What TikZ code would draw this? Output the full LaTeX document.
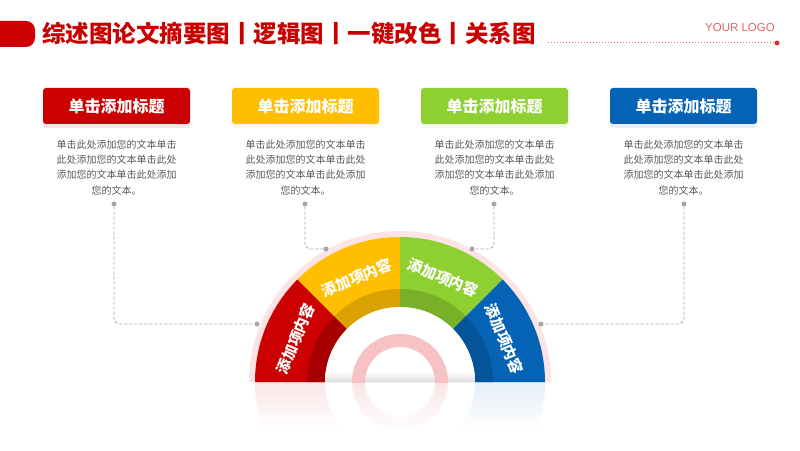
\documentclass[tikz,border=0pt]{standalone}
\usepackage{fontspec}
\setmainfont{Noto Sans CJK SC}
\newfontfamily\logofont{Liberation Sans}
\usetikzlibrary{shadows}
\definecolor{cred}{HTML}{CC0000}
\definecolor{cyel}{HTML}{FFBF00}
\definecolor{cgrn}{HTML}{8DD02F}
\definecolor{cblu}{HTML}{0563B5}
\definecolor{ctitle}{HTML}{C80000}
\definecolor{cgray}{HTML}{A6A6A6}
\definecolor{ctext}{HTML}{595959}
\definecolor{chalo}{HTML}{FCE4E4}
\definecolor{cring}{HTML}{F6C2C4}
\tikzset{
  titlebox/.style={minimum width=147pt, minimum height=36pt, rounded corners=3pt, inner sep=0pt,
    text=white, font=\bfseries\fontsize{16}{16}\selectfont,
    drop shadow={shadow xshift=0pt, shadow yshift=-4pt, opacity=0.22, fill=#1!45}, fill=#1},
  bodytext/.style={align=center, text=ctext, font=\fontsize{10}{15.3}\selectfont, inner sep=0pt},
  cdot/.style={circle, fill=cgray, inner sep=0pt, minimum size=5pt},
  conn/.style={draw=cgray, dash pattern=on 3pt off 2pt, line width=0.8pt, rounded corners=6pt},
  segtext/.style={text=white, font=\bfseries\fontsize{15}{15}\selectfont, inner sep=0pt},
}
\newcommand{\segm}[4]{% start, end, rin, rout
  (#1:#4) arc[start angle=#1, end angle=#2, radius=#4] -- (#2:#3) arc[start angle=#2, end angle=#1, radius=#3] -- cycle}
\begin{document}
\begin{tikzpicture}[x=1pt,y=1pt]
\useasboundingbox (0,0) rectangle (800,450);
\fill[white] (0,0) rectangle (800,450);

% header
\fill[cred, rounded corners=9pt] (-12,403) rectangle (35,429);
\node[anchor=west, text=ctitle, font=\bfseries\fontsize{23.5}{23.5}\selectfont, inner sep=0pt] (title) at (42,416) {综述图论文摘要图丨逻辑图丨一键改色丨关系图};
\coordinate (ls) at (548,407);
\node[circle, fill=cred!80, inner sep=0pt, minimum size=5pt] (le) at (777,407) {};
\draw[cred!55, dotted, line width=1pt] (ls) -- (le);
\node[text=cred!60, font=\logofont\fontsize{11.5}{12}\selectfont, inner sep=0pt] (logo) at (740,422) {YOUR LOGO};

% title boxes
\node[titlebox=cred] (t1) at (116.5,344) {单击添加标题};
\node[titlebox=cyel] (t2) at (305.5,344) {单击添加标题};
\node[titlebox=cgrn] (t3) at (494.5,344) {单击添加标题};
\node[titlebox=cblu] (t4) at (683.5,344) {单击添加标题};

% body texts
\foreach \i/\x in {1/116.5, 2/305.5, 3/494.5, 4/683.5}{
  \node[bodytext] (b\i) at (\x,282.5) {单击此处添加您的文本单击\\此处添加您的文本单击此处\\添加您的文本单击此处添加\\您的文本。};
}

% semicircle
\begin{scope}[shift={(400,68)}]
  % reflection
  \begin{scope}
    \clip (-160,-50) rectangle (160,0);
    \begin{scope}[yscale=-1]
      \fill[cred, opacity=0.09] \segm{180}{135}{75}{145};
      \fill[cyel, opacity=0.09] \segm{135}{90}{75}{145};
      \fill[cgrn, opacity=0.09] \segm{90}{45}{75}{145};
      \fill[cblu, opacity=0.09] \segm{45}{0}{75}{145};
    \end{scope}
    \draw[cring, line width=13pt, opacity=0.4] (0,0) circle[radius=41.5];
    \foreach \k in {1,...,16}{
      \fill[white, opacity=\k/16] (-160,{-3*\k}) rectangle (160,{-3*\k-3});
    }
  \end{scope}
  % halo
  \fill[chalo] (151,0) arc[start angle=0, end angle=180, radius=151] -- cycle;
  \fill[cred] \segm{180}{135}{75}{145};
  \fill[cyel] \segm{135}{90}{75}{145};
  \fill[cgrn] \segm{90}{45}{75}{145};
  \fill[cblu] \segm{45}{0}{75}{145};
  \fill[cred!82!black] \segm{180}{135}{75}{93};
  \fill[cyel!85!black] \segm{135}{90}{75}{93};
  \fill[cgrn!85!black] \segm{90}{45}{75}{93};
  \fill[cblu!85!black] \segm{45}{0}{75}{93};
  \fill[white] (75,0) arc[start angle=0, end angle=180, radius=75] -- cycle;
  \begin{scope}
    \clip (75,0) arc[start angle=0, end angle=180, radius=75] -- cycle;
    \shade[top color=white, bottom color=black!14] (-75,0) rectangle (75,10);
  \end{scope}
  \begin{scope}
    \clip (-60,0) rectangle (60,60);
    \draw[cring, line width=13pt] (0,0) circle[radius=41.5];
  \end{scope}
  \node[segtext, rotate=67.5] (s1) at (157.5:113) {添加项内容};
  \node[segtext, rotate=22.5] (s2) at (112.5:113) {添加项内容};
  \node[segtext, rotate=-22.5] (s3) at (67.5:113) {添加项内容};
  \node[segtext, rotate=-67.5] (s4) at (22.5:113) {添加项内容};
\end{scope}

% dots and connectors
\node[cdot] (d1) at (114,246) {};
\node[cdot] (d2) at (305,246) {};
\node[cdot] (d3) at (494,246) {};
\node[cdot] (d4) at (684,246) {};
\node[cdot] (e1) at (257,126) {};
\node[cdot] (e2) at (326,201) {};
\node[cdot] (e3) at (472,201) {};
\node[cdot] (e4) at (541,126) {};
\draw[conn] (d1) |- (e1);
\draw[conn] (d2) |- (e2);
\draw[conn] (d3) |- (e3);
\draw[conn] (d4) |- (e4);
\end{tikzpicture}
\end{document}
